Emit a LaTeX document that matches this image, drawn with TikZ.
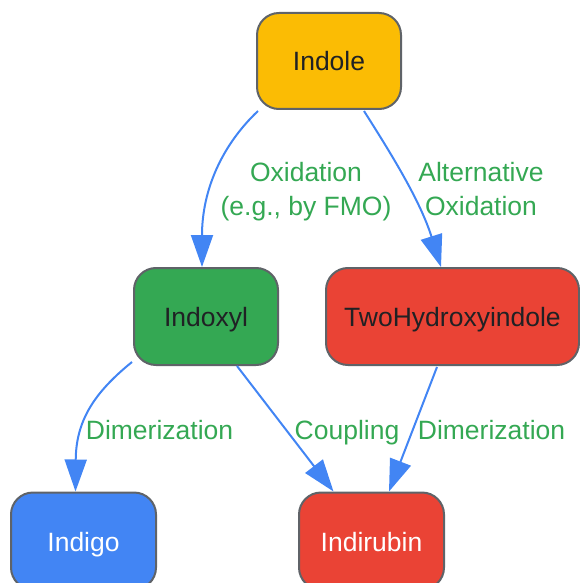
\documentclass[tikz,border=0pt]{standalone}
\usepackage{fontspec}
\setmainfont{Liberation Sans}
\usetikzlibrary{arrows.meta,calc}
\definecolor{cyellow}{HTML}{FBBC04}
\definecolor{cgreen}{HTML}{34A853}
\definecolor{cred}{HTML}{EA4335}
\definecolor{cblue}{HTML}{4285F4}
\definecolor{cborder}{HTML}{5F6368}
\definecolor{cdark}{HTML}{202124}
\definecolor{clabel}{HTML}{34A853}
\begin{document}
\begin{tikzpicture}[x=1pt,y=-1pt,
  box/.style={draw=cborder, line width=2pt, rounded corners=22pt,
    minimum height=97pt, inner sep=0pt, text=cdark,
    text height=20pt, text depth=0pt,
    font=\fontsize{26.5}{32}\selectfont},
  lbl/.style={text=clabel, align=center, inner sep=0pt,
    font=\fontsize{26.5}{33.3}\selectfont},
  arr/.style={draw=cblue, line width=2pt,
    -{Triangle[length=32pt,width=22pt]}}]
\useasboundingbox (0,0) rectangle (580,583);
\node[box, fill=cyellow, minimum width=144pt, minimum height=96pt] (indole) at (329,61) {Indole};
\node[box, fill=cgreen, minimum width=144pt] (indoxyl) at (206,316.5) {Indoxyl};
\node[box, fill=cred, minimum width=253pt] (twohyd) at (452.5,316.5) {TwoHydroxyindole};
\node[box, fill=cblue, minimum width=145pt, text=white] (indigo) at (83.5,541) {Indigo};
\node[box, fill=cred, minimum width=145pt, text=white] (indirubin) at (371.5,541) {Indirubin};

\draw[arr] ($(indole.south west)+(2,1)$) .. controls (222,145) and (202,190) .. ($(indoxyl.north)+(-4,0)$);
\draw[arr] ($(indole.south)+(35,1)$) .. controls (390,152) and (420,200) .. ($(twohyd.north)+(-11.5,0)$);
\draw[arr] ($(indoxyl.south west)+(-1,-4)$) .. controls (95,392) and (76,420) .. ($(indigo.north)+(-8,0)$);
\draw[arr] ($(indoxyl.south)+(31,0)$) -- ($(indirubin.north)+(-38,0)$);
\draw[arr] ($(twohyd.south)+(-15.5,1)$) -- ($(indirubin.north)+(17.5,0)$);

\node[lbl, anchor=base] (l1) at (306,215) {Oxidation\\(e.g., by FMO)};
\node[lbl, anchor=base] (l2) at (481,215) {Alternative\\Oxidation};
\node[lbl, anchor=base] (l3) at (159.5,439) {Dimerization};
\node[lbl, anchor=base] (l4) at (347,439) {Coupling};
\node[lbl, anchor=base] (l5) at (491.5,439) {Dimerization};
\end{tikzpicture}
\end{document}
